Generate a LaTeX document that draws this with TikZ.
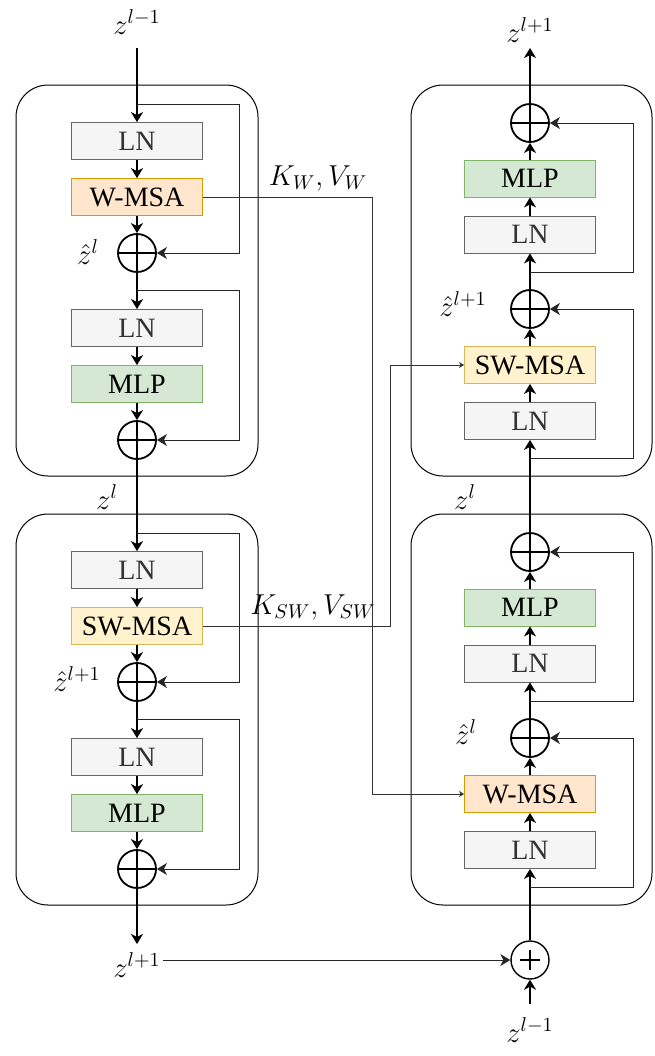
\documentclass[tikz,border=0pt]{standalone}
\usepackage{fontspec}
\usetikzlibrary{arrows.meta}
\newfontfamily\boxfont{Liberation Serif}
\definecolor{lnfill}{HTML}{F5F5F5}
\definecolor{lnline}{HTML}{666666}
\definecolor{wfill}{HTML}{FFE6CC}
\definecolor{wline}{HTML}{D79B00}
\definecolor{swfill}{HTML}{FFF2CC}
\definecolor{swline}{HTML}{D6B656}
\definecolor{mlpfill}{HTML}{D5E8D4}
\definecolor{mlpline}{HTML}{82B366}
\definecolor{textgray}{HTML}{333333}
\begin{document}
\begin{tikzpicture}[x=0.5pt,y=-0.5pt,
  blk/.style={minimum width=65.5pt,minimum height=18.5pt,inner sep=0pt,font=\boxfont\fontsize{14}{16}\selectfont},
  lnbox/.style={blk,draw=lnline,fill=lnfill,text=textgray},
  wbox/.style={blk,draw=wline,fill=wfill},
  swbox/.style={blk,draw=swline,fill=swfill},
  mlpbox/.style={blk,draw=mlpline,fill=mlpfill},
  addop/.style={circle,draw,line width=0.9pt,minimum size=19pt,inner sep=0pt,
    path picture={\draw[line width=0.9pt] (path picture bounding box.north) -- (path picture bounding box.south)
      (path picture bounding box.west) -- (path picture bounding box.east);}},
  addsum/.style={circle,draw,line width=0.7pt,minimum size=19pt,inner sep=0pt,
    path picture={\draw[line width=0.8pt] ([xshift=-5pt]path picture bounding box.center) -- ([xshift=5pt]path picture bounding box.center)
      ([yshift=-5pt]path picture bounding box.center) -- ([yshift=5pt]path picture bounding box.center);}},
  lbl/.style={font=\fontsize{14}{17}\selectfont,inner sep=1pt},
  flow/.style={line width=0.8pt,-{Stealth[length=5pt,width=6pt,inset=1.5pt]}},
  skip/.style={line width=0.5pt,draw=black!85,-{Stealth[length=5pt,width=6pt,inset=1.5pt]}},
  kv/.style={line width=0.5pt,draw=black!80,-{Stealth[length=2.5pt,width=3pt,inset=0.7pt]}},
  block/.style={rounded corners=16pt,line width=0.5pt}]
\useasboundingbox (0,0) rectangle (654,1056);
% containers
\draw[block] (16,85) rectangle (258,476);
\draw[block] (16,514) rectangle (258,905);
\draw[block] (411,85) rectangle (652,476);
\draw[block] (411,514) rectangle (652,905);
% left top block
\node[lbl] (zin) at (137,22) {$z^{l-1}$};
\coordinate (zinend) at (137,48);
\coordinate (lb1) at (137,104);
\node[lnbox] (lln1) at (137,141) {LN};
\node[wbox] (lw) at (137,197) {W-MSA};
\node[addop] (lc1) at (137,253) {};
\coordinate (lb2) at (137,290);
\node[lnbox] (lln2) at (137,328) {LN};
\node[mlpbox] (lmlp) at (137,384) {MLP};
\node[addop] (lc2) at (137,440) {};
\node[lbl] at (88,252) {$\hat{z}^{l}$};
\node[lbl] at (107,497) {$z^{l}$};
% left bottom block
\coordinate (lb3) at (137,533);
\node[lnbox] (lln3) at (137,570) {LN};
\node[swbox] (lsw) at (137,626) {SW-MSA};
\node[addop] (lc3) at (137,682) {};
\coordinate (lb4) at (137,719);
\node[lnbox] (lln4) at (137,757) {LN};
\node[mlpbox] (lmlp2) at (137,813) {MLP};
\node[addop] (lc4) at (137,869) {};
\node[lbl] at (77,679) {$\hat{z}^{l+1}$};
\coordinate (loutend) at (137,944);
\node[lbl] (zout) at (137,965) {$z^{l+1}$};
% right bottom block
\node[lbl] (zin2) at (530,1030) {$z^{l-1}$};
\coordinate (zin2end) at (530,1004);
\node[addsum] (add0) at (530,960) {};
\coordinate (rb1) at (530,887);
\node[lnbox] (rln1) at (530,850) {LN};
\node[wbox] (rw) at (530,794) {W-MSA};
\node[addop] (rc1) at (530,738) {};
\coordinate (rb2) at (530,701);
\node[lnbox] (rln2) at (530,663.5) {LN};
\node[mlpbox] (rmlp) at (530,607.5) {MLP};
\node[addop] (rc2) at (530,552) {};
\node[lbl] at (466,732) {$\hat{z}^{l}$};
\node[lbl] at (465,497) {$z^{l}$};
% right top block
\coordinate (rb3) at (530,458);
\node[lnbox] (rln3) at (530,421) {LN};
\node[swbox] (rsw) at (530,365) {SW-MSA};
\node[addop] (rc3) at (530,309) {};
\coordinate (rb4) at (530,272);
\node[lnbox] (rln4) at (530,234.5) {LN};
\node[mlpbox] (rmlp2) at (530,178.5) {MLP};
\node[addop] (rc4) at (530,123) {};
\node[lbl] at (463,304) {$\hat{z}^{l+1}$};
\coordinate (routend) at (530,48);
\node[lbl] (zout2) at (530,30) {$z^{l+1}$};
% main flow, left
\draw[flow] (zinend) -- (lln1);
\draw[flow] (lln1) -- (lw);
\draw[flow] (lw) -- (lc1);
\draw[flow] (lc1) -- (lln2);
\draw[flow] (lln2) -- (lmlp);
\draw[flow] (lmlp) -- (lc2);
\draw[flow] (lc2) -- (lln3);
\draw[flow] (lln3) -- (lsw);
\draw[flow] (lsw) -- (lc3);
\draw[flow] (lc3) -- (lln4);
\draw[flow] (lln4) -- (lmlp2);
\draw[flow] (lmlp2) -- (lc4);
\draw[flow] (lc4) -- (loutend);
% main flow, right
\draw[flow] (zin2end) -- (add0);
\draw[flow] (add0) -- (rln1);
\draw[flow] (rln1) -- (rw);
\draw[flow] (rw) -- (rc1);
\draw[flow] (rc1) -- (rln2);
\draw[flow] (rln2) -- (rmlp);
\draw[flow] (rmlp) -- (rc2);
\draw[flow] (rc2) -- (rln3);
\draw[flow] (rln3) -- (rsw);
\draw[flow] (rsw) -- (rc3);
\draw[flow] (rc3) -- (rln4);
\draw[flow] (rln4) -- (rmlp2);
\draw[flow] (rmlp2) -- (rc4);
\draw[flow] (rc4) -- (routend);
% skip connections
\draw[skip] (lb1) -- ++(102,0) |- (lc1.east);
\draw[skip] (lb2) -- ++(102,0) |- (lc2.east);
\draw[skip] (lb3) -- ++(102,0) |- (lc3.east);
\draw[skip] (lb4) -- ++(102,0) |- (lc4.east);
\draw[skip] (rb1) -- ++(103,0) |- (rc1.east);
\draw[skip] (rb2) -- ++(103,0) |- (rc2.east);
\draw[skip] (rb3) -- ++(103,0) |- (rc3.east);
\draw[skip] (rb4) -- ++(103,0) |- (rc4.east);
\draw[skip] (zout.east |- add0) -- (add0.west);
% key/value links
\draw[kv] (lw.east) -- ++(170,0) |- (rw.west);
\draw[kv] (lsw.east) -- ++(188,0) |- (rsw.west);
\node[lbl] (kvw) at (318,178) {$K_W,V_W$};
\node[lbl] (kvsw) at (313,607) {$K_{SW},V_{SW}$};
\end{tikzpicture}
\end{document}
